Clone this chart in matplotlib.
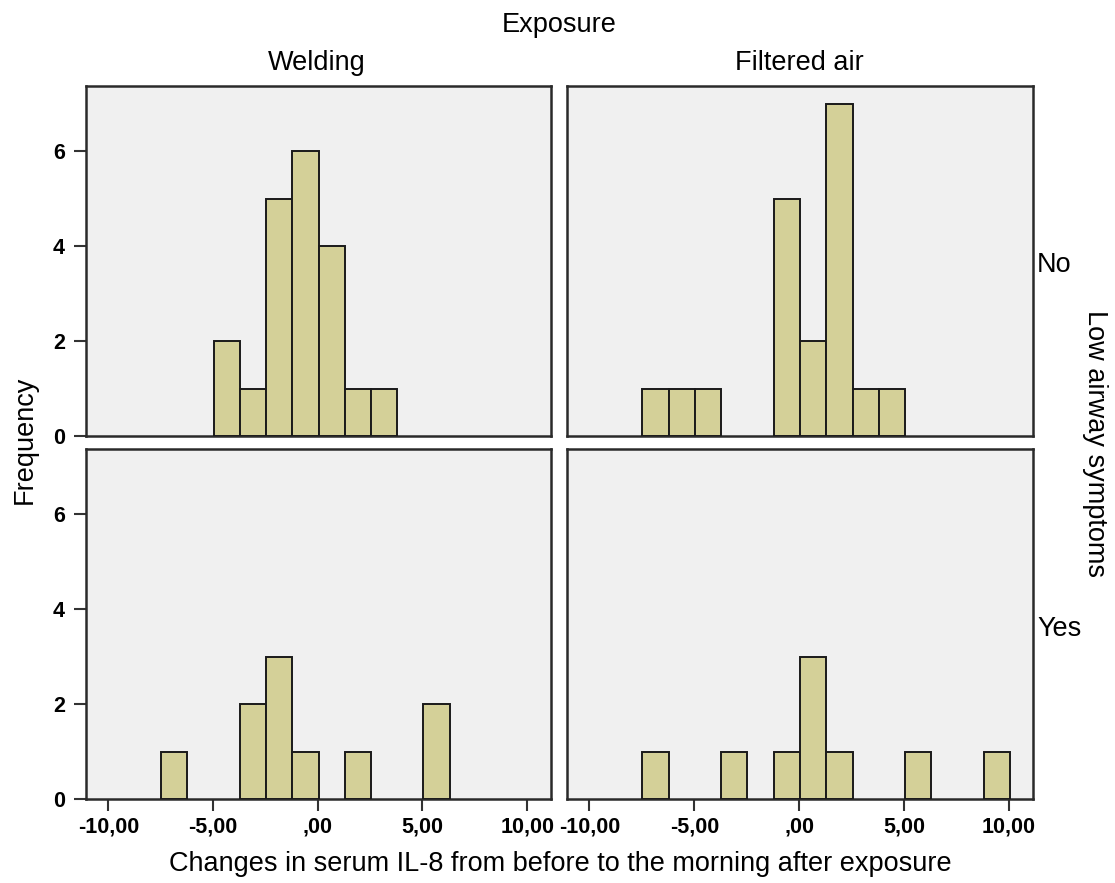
import numpy as np
import matplotlib
matplotlib.use("Agg")
import matplotlib.pyplot as plt

plt.rcParams['font.family'] = ['Liberation Sans', 'DejaVu Sans']

# ---- data ----
bin_edges = [-7.48, -6.23, -4.97, -3.72, -2.47, -1.21, 0.04, 1.29, 2.54, 3.80,
             5.05, 6.30, 7.55, 8.81, 10.06]
welding_no = [0, 0, 2, 1, 5, 6, 4, 1, 1, 0, 0, 0, 0, 0]
filtered_no = [1, 1, 1, 0, 0, 5, 2, 7, 1, 1, 0, 0, 0, 0]
welding_yes = [1, 0, 0, 2, 3, 1, 0, 1, 0, 0, 2, 0, 0, 0]
filtered_yes = [1, 0, 0, 1, 0, 1, 3, 1, 0, 0, 1, 0, 0, 1]

col_labels = ["Welding", "Filtered air"]
row_labels = ["No", "Yes"]
x_ticks = [-10, -5, 0, 5, 10]
x_tick_labels = ["-10,00", "-5,00", ",00", "5,00", "10,00"]
y_ticks = [0, 2, 4, 6]
y_tick_labels = ["0", "2", "4", "6"]

W, H = 1115, 883
fig = plt.figure(figsize=(W / 100, H / 100), dpi=100)
fig.patch.set_facecolor("white")

def fx(px):
    return px / W

def fy(py):
    return 1 - py / H

col_x = [(86, 551), (567, 1033)]
row_y = [(86, 436), (449, 799)]

panels = [[welding_no, filtered_no], [welding_yes, filtered_yes]]
edges = np.array(bin_edges)
lefts = edges[:-1]
widths = np.diff(edges)

bar_color = "#D4D098"
bg = "#F0F0F0"
frame = "#2a2a2a"
FS = 19.5

for r in range(2):
    for c in range(2):
        x0, x1 = col_x[c]
        y0, y1 = row_y[r]
        ax = fig.add_axes([fx(x0), fy(y1), fx(x1 - x0), (y1 - y0) / H])
        ax.set_facecolor(bg)
        counts = np.array(panels[r][c])
        keep = counts > 0
        ax.bar(lefts[keep], counts[keep], width=widths[keep], align="edge",
               color=bar_color, edgecolor="#1a1a1a", linewidth=1.4, zorder=3)
        ax.set_xlim(-11.07, 11.14)
        ax.set_ylim(0, 7.37)
        for s in ax.spines.values():
            s.set_color(frame)
            s.set_linewidth(1.8)
        ax.tick_params(length=8.6, width=1.5, color="#333333",
                       labelsize=15.5, pad=6.5)
        if c == 0:
            ax.set_yticks(y_ticks)
            ax.set_yticklabels(y_tick_labels, fontweight="bold")
        else:
            ax.set_yticks([])
        if r == 1:
            ax.set_xticks(x_ticks)
            ax.set_xticklabels(x_tick_labels, fontweight="bold")
            ax.tick_params(axis="x", pad=4)
        else:
            ax.set_xticks([])

# titles and labels
fig.text(fx(559), fy(25), "Exposure", ha="center", va="center", fontsize=FS)
fig.text(fx(317), fy(63), col_labels[0], ha="center", va="center", fontsize=FS)
fig.text(fx(799), fy(63), col_labels[1], ha="center", va="center", fontsize=FS)
fig.text(fx(1037), fy(265), row_labels[0], ha="left", va="center", fontsize=FS)
fig.text(fx(1037), fy(629), row_labels[1], ha="left", va="center", fontsize=FS)
fig.text(fx(1095), fy(443), "Low airway symptoms", ha="center", va="center",
         rotation=-90, fontsize=FS)
fig.text(fx(25), fy(440), "Frequency", ha="center", va="center",
         rotation=90, fontsize=FS)
fig.text(fx(560), fy(864), "Changes in serum IL-8 from before to the morning after exposure",
         ha="center", va="center", fontsize=FS)

fig.savefig("out.png", dpi=100, facecolor="white")
